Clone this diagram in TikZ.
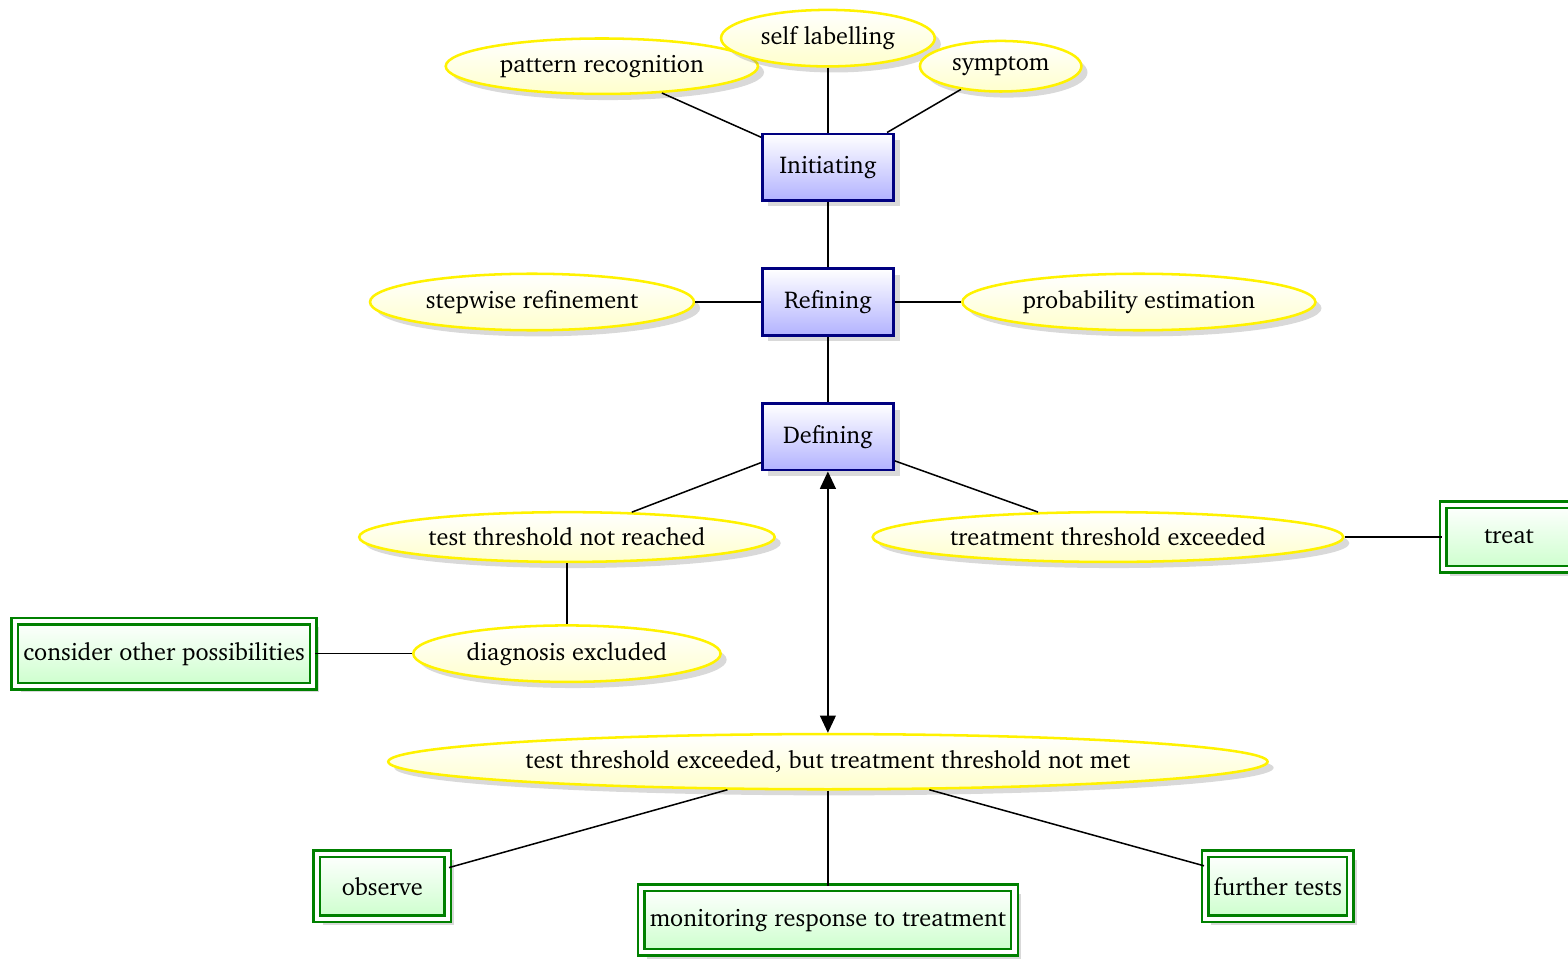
\documentclass[tikz,border=0pt]{standalone}
\usepackage[T1]{fontenc}
\usepackage{charter}
\usepackage{tikz}
\usetikzlibrary{shapes.geometric, arrows.meta, shadows}
\tikzset{
  stagebox/.style={
    draw=blue!50!black, line width=1.1pt, align=center,
    minimum width=1.82cm, minimum height=0.92cm,
    font=\fontsize{9.6pt}{11.5pt}\selectfont,
    top color=white, bottom color=blue!30,
    drop shadow={opacity=0.3}
  },
  ideaell/.style={
    ellipse, draw=yellow, line width=1pt, align=center,
    font=\fontsize{9.6pt}{11.5pt}\selectfont,
    top color=white, bottom color=yellow!20,
    drop shadow={opacity=0.3}
  },
  actionbox/.style={
    draw=green!50!black, line width=1pt, double=white, double distance=1.6pt,
    align=center, minimum width=1.82cm, minimum height=0.9cm,
    font=\fontsize{9.6pt}{11.5pt}\selectfont,
    top color=white, bottom color=green!20,
    drop shadow={opacity=0.3}
  },
  linkline/.style={semithick},
  linkarrow/.style={{Triangle[length=2.4mm,width=2.2mm]}-{Triangle[length=2.4mm,width=2.2mm]}, semithick},
}
\begin{document}
\begin{tikzpicture}
  \useasboundingbox (-11.5,6.07) rectangle (10.28,-7.24);

  % stages
  \node[stagebox] (init) at (0,3.75) {Initiating};
  \node[stagebox] (refi) at (0,1.875) {Refining};
  \node[stagebox] (defi) at (0,0) {Defining};

  % initiating
  \node[ideaell] (patt) at (-3.14,5.15) {pattern recognition};
  \node[ideaell] (self) at (0,5.54) {self labelling};
  \node[ideaell] (symp) at (2.40,5.15) {symptom};

  % refining
  \node[ideaell] (step) at (-4.11,1.875) {stepwise refinement};
  \node[ideaell] (prob) at (4.32,1.875) {probability estimation};

  % defining
  \node[ideaell] (notr) at (-3.625,-1.39) {test threshold not reached};
  \node[ideaell] (exce) at (3.89,-1.39) {treatment threshold exceeded};
  \node[ideaell] (excl) at (-3.625,-3.01) {diagnosis excluded};
  \node[ideaell] (betw) at (0,-4.51) {test threshold exceeded, but treatment threshold not met};

  % actions
  \node[actionbox] (trea) at (9.46,-1.39) {treat};
  \node[actionbox] (othe) at (-9.22,-3.01) {consider other possibilities};
  \node[actionbox] (obse) at (-6.19,-6.24) {observe};
  \node[actionbox] (moni) at (0,-6.71) {monitoring response to treatment};
  \node[actionbox] (furt) at (6.25,-6.24) {further tests};

  % links
  \draw[linkline] (patt) -- (init);
  \draw[linkline] (self) -- (init);
  \draw[linkline] (symp) -- (init);
  \draw[linkline] (init) -- (refi);
  \draw[linkline] (step) -- (refi);
  \draw[linkline] (prob) -- (refi);
  \draw[linkline] (refi) -- (defi);
  \draw[linkline] (defi) -- (notr);
  \draw[linkline] (defi) -- (exce);
  \draw[linkline] (exce) -- (trea);
  \draw[linkline] (notr) -- (excl);
  \draw[linkline] (excl) -- (othe);
  \draw[linkarrow] (defi) -- (betw);
  \draw[linkline] (betw) -- (obse);
  \draw[linkline] (betw) -- (moni);
  \draw[linkline] (betw) -- (furt);
\end{tikzpicture}
\end{document}
